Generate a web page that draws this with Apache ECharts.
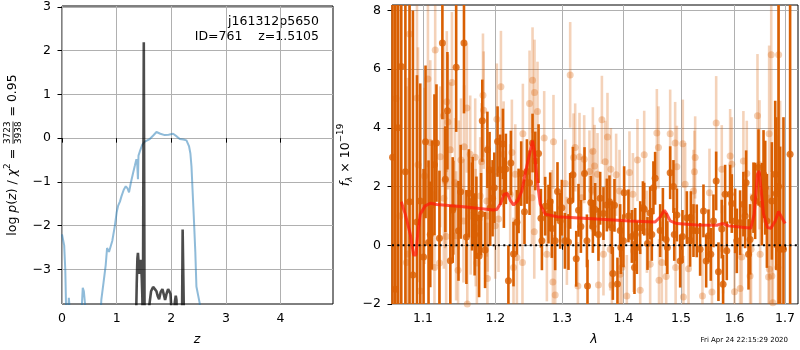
<!DOCTYPE html>
<html>
<head>
<meta charset="utf-8">
<script src="https://cdn.jsdelivr.net/npm/echarts@6/dist/echarts.min.js"></script>
<style>
  html, body { margin: 0; padding: 0; background: #fff; }
  #chart { width: 800px; height: 350px; }
</style>
</head>
<body>
<div id="chart"></div>
<script>
// ---- left panel: log p(z) ----
const zTicks = [0, 1, 2, 3, 4]
const logpTicks = [-3, -2, -1, 0, 1, 2, 3]

// chi2 curve (light blue)
const zChi = [0.00, 0.02, 0.04, 0.06, 0.08, 0.10, 0.125, 0.145, 0.16, 0.20, 0.33, 0.36, 0.38, 0.40, 0.43, 0.46, 0.50,
  0.66, 0.70, 0.72, 0.76, 0.80, 0.825, 0.86, 0.886, 0.92, 0.965, 1.00, 1.026, 1.06, 1.088, 1.13, 1.167, 1.20, 1.227,
  1.26, 1.30, 1.335, 1.362, 1.375, 1.39, 1.40, 1.423, 1.47, 1.515, 1.56, 1.606, 1.67, 1.729, 1.80, 1.881, 1.95, 2.033,
  2.10, 2.156, 2.22, 2.278, 2.326, 2.35, 2.37, 2.39, 2.412, 2.44, 2.46, 2.52, 2.56, 2.62]
const logpChi = [-2.20, -2.17, -2.45, -3.00, -4.20, -4.30, -3.65, -3.62, -4.20, -6, -6, -3.90, -3.42, -3.50, -3.90, -4.50, -6,
  -6, -4.20, -3.69, -3.30, -2.90, -2.51, -2.60, -2.64, -2.35, -2.02, -1.70, -1.55, -1.45, -1.33, -1.18, -1.10, -1.15, -1.24,
  -1.02, -0.80, -0.62, -0.48, -0.55, -0.94, -0.40, -0.31, -0.15, -0.08, -0.05, -0.02, 0.06, 0.14, 0.10, 0.07, 0.08, 0.10,
  0.04, -0.02, -0.03, -0.05, -0.19, -0.35, -0.65, -1.20, -1.79, -2.60, -3.39, -3.77, -4.50, -6]

// p(z) curve (dark)
const zPdf = [1.350, 1.368, 1.380, 1.390, 1.405, 1.415, 1.430, 1.445, 1.460, 1.470, 1.480, 1.497, 1.512, 1.580,
  1.600, 1.630, 1.667, 1.700, 1.729, 1.755, 1.777, 1.805, 1.838, 1.865, 1.887, 1.915, 1.942, 1.965, 1.985, 2.000,
  2.030, 2.065, 2.082, 2.095, 2.110, 2.195, 2.208, 2.222, 2.236]
const logpPdf = [-4.5, -3.31, -2.75, -2.62, -2.65, -3.10, -2.90, -2.78, -3.20, -3.60, -4.5, 2.19, -4.5, -4.5,
  -3.80, -3.50, -3.40, -3.45, -3.50, -3.62, -3.68, -3.52, -3.45, -3.58, -3.70, -3.55, -3.45, -3.50, -3.56, -3.85,
  -4.3, -3.75, -3.60, -3.70, -4.5, -4.5, -2.09, -2.12, -4.5]

// ---- right panel: spectrum ----
const waveTicks = [1.1, 1.2, 1.3, 1.4, 1.5, 1.6, 1.7]
const fluxTicks = [-2, 0, 2, 4, 6, 8]

const darkWave = [1.0605, 1.0640, 1.0675, 1.0717, 1.0770, 1.0824, 1.0868, 1.0921, 1.0964, 1.1008,
  1.1034, 1.1074, 1.1119, 1.1153, 1.1180, 1.1220, 1.1260, 1.1300, 1.1328, 1.1368,
  1.1400, 1.1448, 1.1480, 1.1510, 1.1556, 1.1590, 1.1624, 1.1669, 1.1705, 1.1730,
  1.1768, 1.1813, 1.1853, 1.1886, 1.1917, 1.1960, 1.2032, 1.2071, 1.2110, 1.2153,
  1.2190, 1.2226, 1.2265, 1.2315, 1.2379, 1.2428, 1.2464, 1.2549, 1.2640, 1.2676,
  1.2741, 1.2818, 1.2844, 1.2931, 1.2973, 1.3047, 1.3103, 1.3173, 1.3226, 1.3262,
  1.3300, 1.3358, 1.3406, 1.3460, 1.3493, 1.3530, 1.3612, 1.3666, 1.3722, 1.3765,
  1.3821, 1.3848, 1.3898, 1.3943, 1.3998, 1.4083, 1.4141, 1.4185, 1.4226, 1.4283,
  1.4352, 1.4409, 1.4455, 1.4542, 1.4630, 1.4678, 1.4736, 1.4807, 1.4866, 1.4927,
  1.4986, 1.5028, 1.5107, 1.5167, 1.5228, 1.5350, 1.5412, 1.5505, 1.5598, 1.5649,
  1.5692, 1.5755, 1.5780, 1.5850, 1.5914, 1.5946, 1.6010, 1.6106, 1.6170, 1.6223,
  1.6301, 1.6367, 1.6466, 1.6533, 1.6566, 1.6633, 1.6733, 1.6820, 1.6868, 1.6900,
  1.6968, 1.7104,
  1.1097, 1.1408, 1.1678, 1.1796, 1.1926, 1.1985, 1.2124, 1.2340, 1.2504, 1.2590,
  1.2691, 1.2792, 1.2895, 1.2999, 1.3130, 1.3397, 1.3584, 1.3805, 1.3955, 1.4010,
  1.4198, 1.4330, 1.4484, 1.4512, 1.4757, 1.4880, 1.5180, 1.5288, 1.5462, 1.5548,
  1.5818, 1.6042, 1.6203, 1.6270, 1.6400, 1.6600, 1.6800]
const darkFlux = [3.0, -1.5, 4.0, 6.09, 2.5, 1.48, -1.01, 0.79, 1.51, -0.40,
  3.52, 0.09, 1.37, 2.74, 3.48, 0.24, 6.89, 2.25, 4.58, -0.53,
  1.20, 6.06, 0.49, 1.82, 6.89, 0.28, 1.77, 1.32, 0.37, 0.94,
  -0.37, 4.24, -0.16, 3.25, 2.56, 1.60, 3.53, 2.57, 3.45, 2.60,
  -1.21, 2.80, -0.30, 0.78, 2.44, 1.14, 2.51, 3.48, 3.12, 0.92,
  1.33, 1.48, 0.57, 1.83, 0.83, 0.15, 0.11, 2.40, -0.46, 1.19,
  0.64, 2.44, -1.39, 1.46, 0.64, 1.22, 1.60, 1.08, 1.37, 1.48,
  -0.96, 1.36, -1.32, 0.50, 0.15, 1.00, 0.30, -0.76, -0.08, 0.60,
  1.23, 0.06, 1.10, 2.28, 0.50, 1.05, 0.20, 2.47, 2.00, 1.03,
  -0.54, 0.30, 0.94, 0.17, 0.50, -0.14, 1.17, 0.32, 0.83, 2.19,
  -0.90, 0.55, -1.33, -0.19, 1.74, 1.42, 0.83, 0.77, 1.40, 2.13,
  0.20, 1.62, 2.65, 1.40, 2.42, 0.83, 1.51, 1.76, 2.00, -0.14,
  -0.14, 3.10,
  0.37, 1.28, 1.51, 1.06, 1.28, 1.96, 1.79, 1.51, 2.13, 2.87,
  0.15, 1.06, 0.15, 1.28, 1.51, 0.15, 0.37, 0.60, -0.08, 1.79,
  0.37, 1.28, 0.37, 1.96, -0.08, 0.37, 0.94, 0.49, -0.54, -0.31,
  1.74, 0.15, 1.00, -0.31, 1.51, 1.96, 2.42]
const darkErr = [14, 14, 14, 14, 12, 11, 9, 5, 4, 3.0,
  2.6, 2.8, 2.2, 2.4, 2.0, 2.3, 2.6, 1.8, 2.0, 1.9,
  1.8, 2.2, 1.7, 1.6, 2.4, 1.6, 1.5, 1.5, 1.4, 1.4,
  1.4, 1.4, 1.3, 1.3, 1.3, 1.3, 1.2, 1.2, 1.2, 1.2,
  1.2, 1.1, 1.1, 1.1, 1.1, 1.1, 1.1, 1.0, 1.0, 1.0,
  1.0, 1.0, 1.0, 1.0, 0.95, 0.95, 0.95, 0.95, 0.95, 0.9,
  0.9, 0.9, 0.9, 0.9, 0.9, 0.9, 0.9, 0.9, 0.9, 0.9,
  0.9, 0.9, 0.9, 0.9, 0.9, 0.9, 0.9, 0.9, 0.9, 0.9,
  0.9, 0.9, 0.9, 0.9, 0.9, 0.9, 0.9, 0.9, 0.9, 0.9,
  0.9, 0.9, 0.9, 0.9, 0.9, 0.9, 0.9, 0.9, 0.9, 1.0,
  1.0, 1.0, 1.0, 1.0, 1.0, 1.0, 1.1, 1.1, 1.1, 1.1,
  1.2, 1.2, 1.3, 1.4, 1.5, 1.6, 2.0, 2.6, 12, 3.5,
  4.5, 14,
  1.8, 1.6, 1.5, 1.4, 1.3, 1.2, 1.2, 1.1, 1.1, 1.0,
  1.0, 1.0, 1.0, 0.95, 0.95, 0.9, 0.9, 0.9, 0.9, 0.9,
  0.9, 0.9, 0.9, 0.9, 0.9, 0.9, 0.9, 0.9, 0.9, 0.9,
  1.0, 1.1, 1.1, 1.2, 1.3, 1.6, 2.5]

const lightWave = [1.0650, 1.0700, 1.0783, 1.0800, 1.0824, 1.0921, 1.0935, 1.0964, 1.1021, 1.1066,
  1.1097, 1.1153, 1.1163, 1.1221, 1.1231, 1.1275, 1.1280, 1.1297, 1.1311, 1.1320,
  1.1335, 1.1367, 1.1390, 1.1433, 1.1447, 1.1474, 1.1485, 1.1514, 1.1549, 1.1559,
  1.1596, 1.1602, 1.1643, 1.1650, 1.1713, 1.1720, 1.1737, 1.1784, 1.1802, 1.1823,
  1.1833, 1.1878, 1.1886, 1.1892, 1.1998, 1.2022, 1.2046, 1.2081, 1.2120, 1.2216,
  1.2241, 1.2265, 1.2291, 1.2315, 1.2398, 1.2404, 1.2504, 1.2540, 1.2549, 1.2575,
  1.2579, 1.2624, 1.2726, 1.2767, 1.2844, 1.2860, 1.2869, 1.2895, 1.3051, 1.3078,
  1.3130, 1.3183, 1.3209, 1.3252, 1.3278, 1.3315, 1.3353, 1.3438, 1.3476, 1.3493,
  1.3520, 1.3568, 1.3584, 1.3640, 1.3666, 1.3694, 1.3732, 1.3777, 1.3788, 1.3805,
  1.3876, 1.3932, 1.3943, 1.3972, 1.4055, 1.4100, 1.4158, 1.4169, 1.4236, 1.4283,
  1.4352, 1.4398, 1.4455, 1.4572, 1.4600, 1.4610, 1.4660, 1.4736, 1.4807, 1.4896,
  1.4905, 1.4927, 1.5034, 1.5045, 1.5076, 1.5137, 1.5228, 1.5245, 1.5259, 1.5393,
  1.5524, 1.5570, 1.5649, 1.5755, 1.5780, 1.5914, 1.5946, 1.5998, 1.6106, 1.6138,
  1.6170, 1.6236, 1.6301, 1.6320, 1.6446, 1.6486, 1.6499, 1.6666, 1.6678, 1.6683,
  1.6720, 1.6733, 1.6753, 1.6853, 1.6870, 1.6900]
const lightFlux = [5.0, 1.0, -0.59, -0.30, 7.19, 5.01, 2.74, -1.56, 2.36, 5.66,
  3.50, -0.76, 6.65, -0.60, 3.01, 4.41, 1.60, 2.20, 0.30, 4.89,
  4.20, 3.25, 5.54, 2.13, 0.32, -0.85, 2.05, 2.90, 0.83, 3.35,
  4.67, -2.00, 3.10, 1.00, 3.00, 0.60, -0.60, 1.68, 2.84, 5.11,
  4.60, 1.51, -1.13, 1.00, 0.66, 4.29, 0.89, 5.40, 3.10, 1.74,
  3.16, -0.76, 2.42, -0.42, -0.59, 3.80, 4.83, 1.62, 5.62, 0.46,
  5.20, 4.55, 3.65, -0.31, 1.06, -1.25, 3.52, -1.69, 2.10, 0.15,
  5.80, 2.99, 3.33, -1.39, 3.01, 1.62, 2.93, 2.51, 1.87, 3.20,
  2.70, 2.42, -1.35, 4.27, -0.31, 2.84, 3.69, -0.14, 2.59, -1.35,
  2.40, 1.85, -0.99, -0.76, -1.73, 2.48, 1.74, -0.19, 2.90, -1.53,
  3.08, 0.46, -0.65, 3.82, 3.33, -1.19, -0.59, -1.06, 3.80, 3.48,
  -0.76, 2.67, 3.46, -1.76, 2.08, -0.80, 1.85, 2.50, 2.99, -1.73,
  1.79, -1.59, 4.16, 2.59, -0.14, 3.04, 2.76, -1.58, -1.47, -0.40,
  2.87, 2.44, -1.05, -0.14, 4.41, 2.74, -0.31, -1.08, 3.80, -0.82,
  6.49, -1.05, -1.96, -0.76, 6.49, -0.08]
const lightErr = [9, 9, 6, 6, 7, 5, 4, 3.5, 3.0, 3.0,
  2.8, 2.6, 2.6, 2.5, 2.4, 2.4, 2.4, 2.3, 2.3, 2.4,
  2.3, 2.3, 2.4, 2.2, 2.2, 2.2, 2.2, 2.1, 2.1, 2.1,
  2.2, 2.1, 2.0, 2.0, 2.0, 2.0, 2.0, 2.0, 2.0, 2.1,
  2.0, 1.9, 1.9, 1.9, 1.8, 1.9, 1.8, 1.9, 1.8, 1.7,
  1.8, 1.7, 1.7, 1.7, 1.7, 1.7, 1.8, 1.6, 1.8, 1.6,
  1.8, 1.7, 1.6, 1.6, 1.5, 1.6, 1.6, 1.6, 1.5, 1.5,
  1.8, 1.5, 1.5, 1.5, 1.5, 1.4, 1.5, 1.4, 1.4, 1.5,
  1.4, 1.4, 1.4, 1.5, 1.4, 1.4, 1.5, 1.4, 1.4, 1.4,
  1.4, 1.4, 1.4, 1.4, 1.4, 1.4, 1.4, 1.4, 1.4, 1.4,
  1.5, 1.4, 1.4, 1.5, 1.4, 1.4, 1.4, 1.4, 1.5, 1.4,
  1.4, 1.4, 1.5, 1.4, 1.4, 1.4, 1.4, 1.4, 1.4, 1.5,
  1.5, 1.5, 1.6, 1.5, 1.5, 1.6, 1.6, 1.6, 1.7, 1.7,
  1.7, 1.8, 1.9, 1.9, 2.1, 2.2, 2.2, 2.8, 3.0, 2.8,
  4.0, 3.5, 3.5, 4.5, 5.0, 5.0]

// template model (red)
const modelWave = [1.0717, 1.0768, 1.0834, 1.0877, 1.0908, 1.0930, 1.0964, 1.1030, 1.1097, 1.1185,
  1.1549, 1.1971, 1.2022, 1.2077, 1.2127, 1.2175, 1.2222, 1.2268, 1.2326, 1.2389,
  1.2447, 1.2514, 1.2549, 1.2575, 1.2615, 1.2665, 1.2741, 1.2922, 1.3557, 1.4112,
  1.4542, 1.4630, 1.4705, 1.4748, 1.4807, 1.4927, 1.5288, 1.5660, 1.5780, 1.5882,
  1.6236, 1.6315, 1.6381, 1.6446, 1.6480, 1.6513, 1.6566, 1.6646, 1.6714, 1.6800,
  1.6867, 1.6935, 1.7002]
const modelFlux = [1.48, 1.06, 0.37, -0.33, -0.33, 0.37, 1.06, 1.34, 1.43, 1.39,
  1.31, 1.20, 1.22, 1.42, 1.74, 1.76, 1.51, 1.37, 1.51, 1.85,
  2.53, 3.21, 3.56, 3.21, 2.30, 1.40, 1.06, 0.97, 0.89, 0.83,
  0.79, 0.96, 1.19, 1.06, 0.83, 0.74, 0.69, 0.68, 0.74, 0.66,
  0.60, 0.58, 1.06, 2.42, 2.53, 1.96, 1.06, 0.60, 0.58, 0.83,
  1.15, 0.94, 0.74]

const FONT = 'DejaVu Sans'
const ORANGE = '#d95f02'
const GRID_COLOR = '#b0b0b0'
const waveMin = 1.0598
const waveMax = 1.7267

const minus = v => (v < 0 ? '\u2212' + (-v) : String(v))

// text width, to lay out the math-like axis titles
const ctx = document.createElement('canvas').getContext('2d')
function textWidth(t, size, italic) {
  ctx.font = (italic ? 'italic ' : '') + size + 'px "' + FONT + '"'
  return ctx.measureText(t).width
}

function txt(t, x, y, size, italic, align) {
  return {
    type: 'text', x: x, y: y,
    style: {
      text: t, fill: '#000',
      font: (italic ? 'italic ' : '') + size + 'px "' + FONT + '"',
      textAlign: align, textVerticalAlign: 'middle', align: align, verticalAlign: 'middle'
    }
  }
}

// vertical (rotated) label made of pieces
function mathLabel(pieces, cx, cy) {
  const widths = pieces.map(p => p.frac
    ? Math.max(textWidth(p.frac[0], p.size), textWidth(p.frac[1], p.size)) + 2
    : textWidth(p.t, p.size, p.italic))
  const total = widths.reduce((a, b) => a + b, 0)
  let x = -total / 2
  const children = []
  pieces.forEach((p, i) => {
    const w = widths[i]
    if (p.frac) {
      children.push(txt(p.frac[0], x + w / 2, -5, p.size, false, 'center'))
      children.push(txt(p.frac[1], x + w / 2, 5.5, p.size, false, 'center'))
      children.push({ type: 'line', shape: { x1: x + 1, y1: 0, x2: x + w - 1, y2: 0 }, style: { stroke: '#000', lineWidth: 0.8 } })
    } else {
      children.push(txt(p.t, x, p.dy || 0, p.size, p.italic, 'left'))
    }
    x += w
  })
  return { type: 'group', x: cx, y: cy, rotation: Math.PI / 2, children: children }
}

// error bars clipped to the plot area
function errorBars(color) {
  return function (params, api) {
    const x = api.value(0), y = api.value(1), e = api.value(2)
    const p1 = api.coord([x, y - e])
    const p2 = api.coord([x, y + e])
    const cs = params.coordSys
    const clamp = v => Math.min(Math.max(v, cs.y), cs.y + cs.height)
    return {
      type: 'line',
      shape: { x1: p1[0], y1: clamp(p1[1]), x2: p2[0], y2: clamp(p2[1]) },
      style: { stroke: color, lineWidth: 2.6 }
    }
  }
}

const tickStyle = { show: true, length: 4.5, lineStyle: { color: '#000', width: 1 } }
const labelStyle = { color: '#000', fontSize: 12.5, fontFamily: FONT }
const splitStyle = { show: true, lineStyle: { color: GRID_COLOR, width: 1 } }

const chart = echarts.init(document.getElementById('chart'), null, { renderer: 'canvas' })

chart.setOption({
  animation: false,
  backgroundColor: '#fff',
  grid: [
    { left: 62, top: 6, width: 271, height: 298, show: true, borderColor: '#000', borderWidth: 1, backgroundColor: 'transparent' },
    { left: 392, top: 5, width: 406, height: 299, show: true, borderColor: '#000', borderWidth: 1, backgroundColor: 'transparent' }
  ],
  xAxis: [
    {
      type: 'value', gridIndex: 0, min: 0, max: 4.96,
      axisLine: { show: false },
      axisTick: Object.assign({ customValues: zTicks }, tickStyle),
      axisLabel: Object.assign({ customValues: zTicks, margin: 8, formatter: minus }, labelStyle),
      splitLine: splitStyle
    },
    {
      type: 'value', gridIndex: 1, min: Math.log(waveMin), max: Math.log(waveMax),
      axisLine: { show: false },
      axisTick: Object.assign({ customValues: waveTicks.map(Math.log) }, tickStyle),
      axisLabel: Object.assign({ customValues: waveTicks.map(Math.log), margin: 8, formatter: v => Math.exp(v).toFixed(1) }, labelStyle),
      splitLine: splitStyle
    }
  ],
  yAxis: [
    {
      type: 'value', gridIndex: 0, min: -3.79, max: 3.02,
      axisLine: { show: false },
      axisTick: Object.assign({ customValues: logpTicks }, tickStyle),
      axisLabel: Object.assign({ customValues: logpTicks, margin: 11, formatter: minus }, labelStyle),
      splitLine: splitStyle
    },
    {
      type: 'value', gridIndex: 1, min: -2, max: 8.18,
      axisLine: { show: false },
      axisTick: Object.assign({ customValues: fluxTicks }, tickStyle),
      axisLabel: Object.assign({ customValues: fluxTicks, margin: 11, formatter: minus }, labelStyle),
      splitLine: splitStyle
    }
  ],
  series: [
    {
      type: 'line', xAxisIndex: 0, yAxisIndex: 0, symbol: 'none', clip: true,
      lineStyle: { color: 'rgba(31,119,180,0.5)', width: 2 },
      data: zChi.map((z, i) => [z, logpChi[i]])
    },
    {
      type: 'line', xAxisIndex: 0, yAxisIndex: 0, symbol: 'none', clip: true,
      lineStyle: { color: 'rgba(0,0,0,0.7)', width: 2.6 },
      data: zPdf.map((z, i) => [z, logpPdf[i]])
    },
    {
      type: 'custom', xAxisIndex: 1, yAxisIndex: 1, encode: { x: 0, y: 1 },
      renderItem: errorBars('rgba(217,95,2,0.28)'),
      data: lightWave.map((w, i) => [Math.log(w), lightFlux[i], lightErr[i]])
    },
    {
      type: 'scatter', xAxisIndex: 1, yAxisIndex: 1, symbolSize: 7, clip: true,
      itemStyle: { color: ORANGE, opacity: 0.3 },
      data: lightWave.map((w, i) => [Math.log(w), lightFlux[i]])
    },
    {
      type: 'custom', xAxisIndex: 1, yAxisIndex: 1, encode: { x: 0, y: 1 },
      renderItem: errorBars(ORANGE),
      data: darkWave.map((w, i) => [Math.log(w), darkFlux[i], darkErr[i]])
    },
    {
      type: 'scatter', xAxisIndex: 1, yAxisIndex: 1, symbolSize: 7, clip: true,
      itemStyle: { color: ORANGE },
      data: darkWave.map((w, i) => [Math.log(w), darkFlux[i]])
    },
    {
      type: 'line', xAxisIndex: 1, yAxisIndex: 1, symbol: 'none', clip: true,
      lineStyle: { color: 'rgba(255,25,10,0.72)', width: 3 },
      data: modelWave.map((w, i) => [Math.log(w), modelFlux[i]])
    },
    {
      type: 'line', xAxisIndex: 1, yAxisIndex: 1, symbol: 'none', clip: true,
      lineStyle: { color: '#000', width: 2, type: [2, 3.3] },
      data: [[Math.log(waveMin), 0], [Math.log(waveMax), 0]]
    }
  ],
  graphic: [
    txt('j161312p5650', 319, 22, 12.5, false, 'right'),
    txt('ID=761    z=1.5105', 319, 37, 12.5, false, 'right'),
    txt('z', 197, 340, 12.5, true, 'center'),
    txt('\u03bb', 594, 340, 12.5, true, 'center'),
    txt('Fri Apr 24 22:15:29 2020', 788, 340, 7, false, 'right'),
    mathLabel([
      { t: 'log ', size: 12.5 },
      { t: 'p', size: 12.5, italic: true },
      { t: '(', size: 12.5 },
      { t: 'z', size: 12.5, italic: true },
      { t: ') / ', size: 12.5 },
      { t: '\u03c7', size: 12.5, italic: true },
      { t: '2', size: 8.8, dy: -5 },
      { t: ' = ', size: 12.5 },
      { frac: ['3723', '3938'], size: 8.8 },
      { t: ' = 0.95', size: 12.5 }
    ], 13, 155),
    mathLabel([
      { t: 'f', size: 12.5, italic: true },
      { t: '\u03bb', size: 8.8, italic: true, dy: 3.5 },
      { t: ' \u00d7 10', size: 12.5 },
      { t: '\u221219', size: 8.8, dy: -5 }
    ], 346, 155)
  ]
})
</script>
</body>
</html>
